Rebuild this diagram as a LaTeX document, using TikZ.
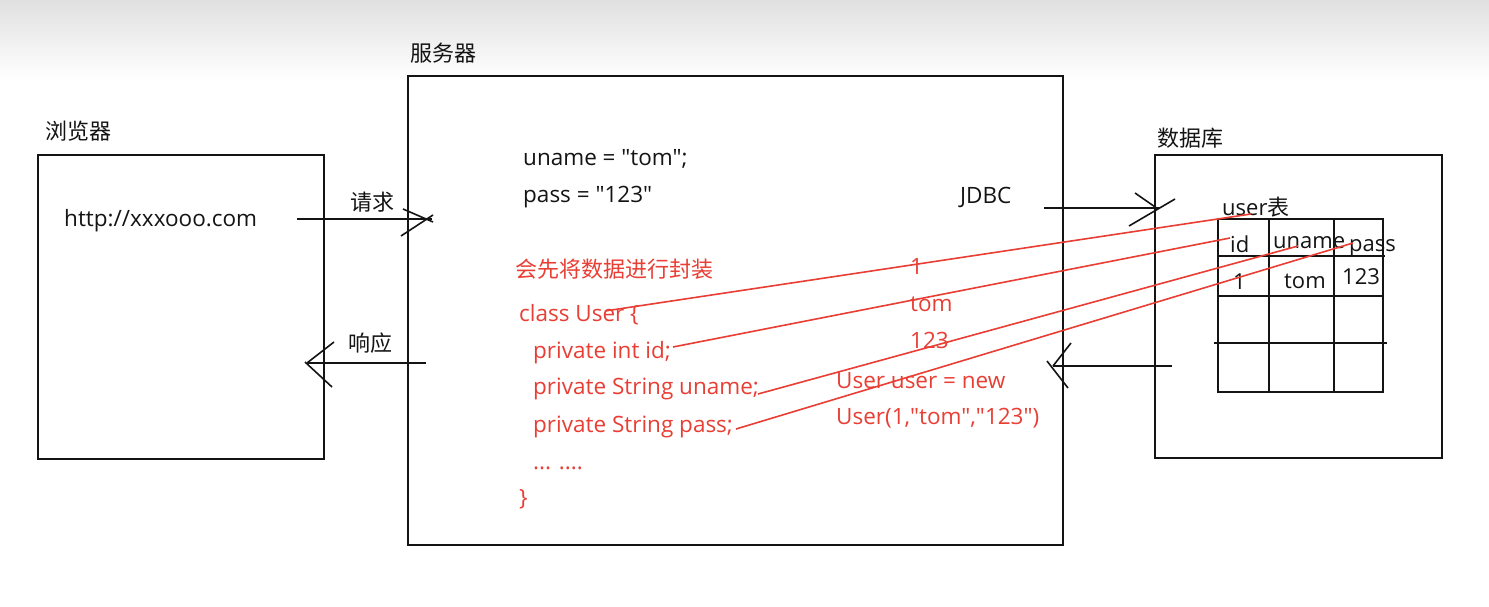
\documentclass[tikz,border=0pt]{standalone}
\usepackage{fontspec}
\setmainfont{Open Sans}[Ligatures=TeXOff]
\newfontfamily\cjk{Noto Sans CJK SC}
\definecolor{inkred}{RGB}{232,62,52}
\definecolor{ink}{RGB}{20,20,20}
\begin{document}
\begin{tikzpicture}[x=1pt,y=-1pt,
  box/.style={draw=ink,line width=1.6pt},
  wire/.style={draw=ink,line width=1.6pt},
  redwire/.style={draw=inkred,line width=1.6pt},
  lbl/.style={anchor=base west,inner sep=0pt,text=ink,font=\fontsize{22.5}{26}\selectfont},
  rlbl/.style={anchor=base west,inner sep=0pt,text=inkred,font=\fontsize{22.5}{26}\selectfont},
  cjkl/.style={anchor=base west,inner sep=0pt,text=ink,font=\cjk\fontsize{22}{26}\selectfont},
  tlbl/.style={anchor=base west,inner sep=0pt,text=ink,font=\fontsize{22}{26}\selectfont}]
\useasboundingbox (0,0) rectangle (1489,607);
\fill[white] (0,0) rectangle (1489,607);
\shade[top color=black!12,bottom color=white] (0,0) rectangle (1489,80);

% boxes
\draw[box] (38,155) rectangle (324,459);
\draw[box] (408,76) rectangle (1063,545);
\draw[box] (1155,155) rectangle (1442,458);
\node[cjkl] (lbrowser) at (45,140) {浏览器};
\node[cjkl] (lserver) at (410,62) {服务器};
\node[cjkl] (ldb) at (1157,147) {数据库};

% browser
\node[lbl] (url) at (64,226) {http://xxxooo.com};

% request arrow
\coordinate (reqA) at (297,219);
\coordinate (reqB) at (432,219);
\draw[wire] (reqA) -- (reqB);
\coordinate (rq1) at (403,209); \coordinate (rq2) at (433,222);
\coordinate (rq3) at (401,236); \coordinate (rq4) at (433,215);
\draw[wire] (rq1) -- (rq2);
\draw[wire] (rq3) -- (rq4);
\node[cjkl] (lreq) at (350,210) {请求};

% response arrow
\coordinate (rsA) at (426,363);
\coordinate (rsB) at (307,363);
\draw[wire] (rsA) -- (rsB);
\coordinate (rs1) at (334,342); \coordinate (rs2) at (307,363);
\coordinate (rs3) at (305,362); \coordinate (rs4) at (332,387);
\draw[wire] (rs1) -- (rs2);
\draw[wire] (rs3) -- (rs4);
\node[cjkl] (lresp) at (348,351) {响应};

% server text
\node[lbl] (un) at (523,165) {uname = "tom";};
\node[lbl] (pw) at (523,202) {pass = "123"};
\node[lbl] (jdbc) at (960,203) {JDBC};

% JDBC arrow
\coordinate (jA) at (1044,208);
\coordinate (jB) at (1160,208);
\draw[wire] (jA) -- (jB);
\coordinate (j1) at (1135,193); \coordinate (j2) at (1158,209);
\coordinate (j3) at (1129,226); \coordinate (j4) at (1175,199);
\draw[wire] (j1) -- (j2);
\draw[wire] (j3) -- (j4);

% return arrow
\coordinate (bA) at (1172,366);
\coordinate (bB) at (1053,366);
\draw[wire] (bA) -- (bB);
\coordinate (b1) at (1071,343); \coordinate (b2) at (1053,366);
\coordinate (b3) at (1047,361); \coordinate (b4) at (1068,388);
\draw[wire] (b1) -- (b2);
\draw[wire] (b3) -- (b4);

% red class text
\node[rlbl,font=\cjk\fontsize{22}{26}\selectfont] (enc) at (515,277) {会先将数据进行封装};
\node[rlbl] (c1) at (519,321) {class User \{};
\node[rlbl] (c2) at (533,358) {private int id;};
\node[rlbl] (c3) at (533,394) {private String uname;};
\node[rlbl] (c4) at (533,432) {private String pass;};
\node[rlbl] (c5) at (533,469) {... ....};
\node[rlbl] (c6) at (519,505) {\}};

\node[rlbl] (v1) at (910,274) {1};
\node[rlbl] (v2) at (910,311) {tom};
\node[rlbl] (v3) at (910,348) {123};
\node[rlbl] (n1) at (836,388) {User user = new};
\node[rlbl] (n2) at (836,424) {User(1,"tom","123")};

% table
\draw[box,line width=1.5pt] (1218,219) rectangle (1383,392);
\draw[wire,line width=1.5pt] (1269,219) -- (1269,392);
\draw[wire,line width=1.5pt] (1334,219) -- (1334,392);
\draw[wire,line width=1.5pt] (1218,256) -- (1385,256);
\draw[wire,line width=1.5pt] (1218,296) -- (1383,296);
\draw[wire,line width=1.5pt] (1214,343) -- (1387,343);
\node[tlbl] (tname) at (1222,215) {user{\cjk 表}};
\node[tlbl] (hid) at (1230,252) {id};
\node[tlbl] (hun) at (1273,248) {uname};
\node[tlbl] (hpw) at (1349,251) {pass};
\node[tlbl] (r1) at (1233,289) {1};
\node[tlbl] (r2) at (1284,288) {tom};
\node[tlbl] (r3) at (1342,284) {123};

% red mapping lines
\coordinate (m1a) at (605,311); \coordinate (m1b) at (1251,214);
\coordinate (m2a) at (673,347); \coordinate (m2b) at (1230,238);
\coordinate (m3a) at (758,394); \coordinate (m3b) at (1298,246);
\coordinate (m4a) at (736,429); \coordinate (m4b) at (1353,243);
\draw[redwire] (m1a) -- (m1b);
\draw[redwire] (m2a) -- (m2b);
\draw[redwire] (m3a) -- (m3b);
\draw[redwire] (m4a) -- (m4b);
\end{tikzpicture}
\end{document}
